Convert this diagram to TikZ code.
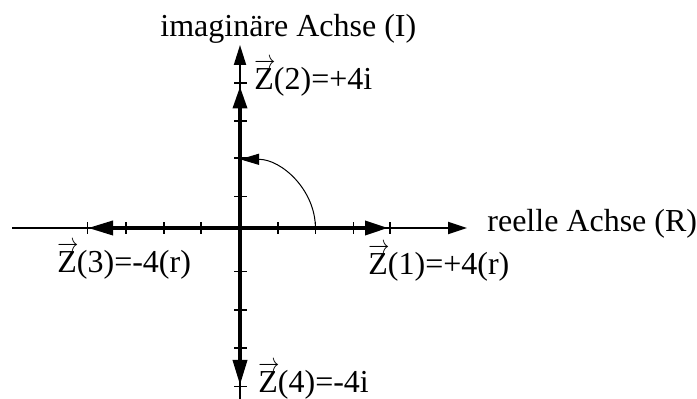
\documentclass[tikz,border=0pt]{standalone}
\usepackage{fontspec}
\usepackage{graphicx}
\setmainfont{Liberation Serif}
\usetikzlibrary{arrows.meta}
\newcommand{\vZ}{\rlap{\raisebox{0.68em}{\resizebox{0.66em}{0.3em}{$\rightarrow$}}}Z}
\tikzset{
  axis/.style={line width=1pt},
  vect/.style={line width=1.8pt},
  tck/.style={line width=0.8pt},
  lbl/.style={inner sep=0pt, anchor=base west, font=\fontsize{16}{19}\selectfont},
}
\begin{document}
\begin{tikzpicture}[x=0.5pt,y=0.5pt]
\useasboundingbox (0,0) rectangle (697,399);
\coordinate (O) at (240,171);
\coordinate (xl) at (12,171);
\coordinate (xr) at (467,171);
\coordinate (yb) at (240,0);
\coordinate (yt) at (240,354);
\coordinate (p1) at (388,171);
\coordinate (p2) at (240,312.5);
\coordinate (p3) at (88,171);
\coordinate (p4) at (240,14);
\coordinate (a0) at (315.4,171);
% axes
\draw[axis,-{Triangle[length=9.5pt,width=6pt]}] (xl) -- (xr);
\draw[axis,-{Triangle[length=10pt,width=6pt]}] (yb) -- (yt);
% ticks
\foreach \x in {87.5,126,163.7,201,277.7,315.4,353.3,390}
  \draw[tck] (\x,165) -- (\x,177);
\foreach \y in {202.3,240.7,278,315.7,127.3,89,50.7,12.3}
  \draw[tck] (234,\y) -- (247,\y);
% vectors
\draw[vect,-{Triangle[length=11.5pt,width=7pt]}] (O) -- (p1);
\draw[vect,-{Triangle[length=11pt,width=7pt]}] (O) -- (p2);
\draw[vect,-{Triangle[length=12.5pt,width=7pt]}] (O) -- (p3);
\draw[vect,-{Triangle[length=12.5pt,width=7pt]}] (O) -- (p4);
% rotation arc
\draw[line width=0.5pt,-{Triangle[length=9.5pt,width=5.5pt]}] (a0) arc[start angle=0,end angle=90,x radius=75.4,y radius=68.7];
% labels
\node[lbl] (li) at (160,362) {imaginäre Achse (I)};
\node[lbl] (lr) at (487,167) {reelle Achse (R)};
\node[lbl] (l1) at (368,124) {\vZ(1)=+4(r)};
\node[lbl] (l2) at (254,309) {\vZ(2)=+4i};
\node[lbl] (l3) at (57,126) {\vZ(3)=-4(r)};
\node[lbl] (l4) at (258,6) {\vZ(4)=-4i};
\end{tikzpicture}
\end{document}
